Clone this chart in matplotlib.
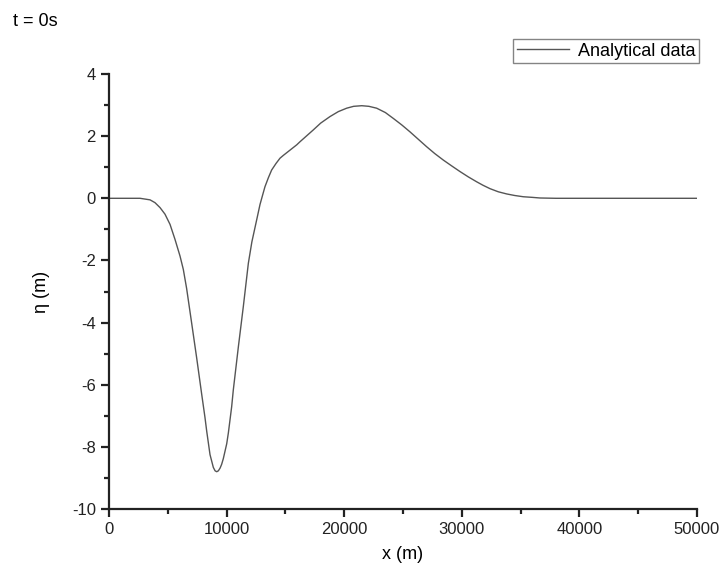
import matplotlib.pyplot as plt
from matplotlib.ticker import MultipleLocator

plt.rcParams['font.family'] = ['Liberation Sans', 'DejaVu Sans']
plt.rcParams['axes.unicode_minus'] = False

# free surface at t = 0
x_m = [0, 2000, 2640, 3490, 3910, 4340, 4760, 5190, 5610, 6040, 6320, 6600,
       7030, 7460, 7880, 8160, 8310, 8590, 8870, 9020, 9160, 9300, 9450, 9580, 9720,
       10010, 10150, 10430, 10570, 11000, 11420, 11850, 12150, 12410, 12600,
       12840, 13060, 13260, 13550, 13830, 14200, 14540, 14820, 15390, 15960,
       16240, 17370, 18000, 18790, 19500, 20210, 20800, 21490, 22100, 22760,
       23500, 24180, 24900, 25590, 26300, 27010, 27700, 28430, 29150, 29850,
       30550, 31270, 31800, 32400, 33100, 33820, 34500, 35230, 36000, 36650,
       38000, 40000, 50000]
eta_m = [0, 0, 0, -0.05, -0.14, -0.30, -0.51, -0.84, -1.32, -1.86, -2.29, -2.90,
         -4.02, -5.15, -6.30, -7.05, -7.50, -8.25, -8.66, -8.77, -8.80, -8.77, -8.68, -8.56, -8.38,
         -7.90, -7.55, -6.71, -6.17, -4.78, -3.49, -2.09, -1.40, -0.95, -0.62,
         -0.20, 0.10, 0.37, 0.66, 0.91, 1.12, 1.29, 1.38, 1.55, 1.72,
         1.82, 2.20, 2.42, 2.63, 2.79, 2.90, 2.96, 2.98, 2.96, 2.90,
         2.76, 2.57, 2.36, 2.14, 1.90, 1.66, 1.44, 1.23, 1.04, 0.86,
         0.69, 0.53, 0.42, 0.31, 0.21, 0.14, 0.09, 0.05, 0.03, 0.01,
         0.0, 0.0, 0.0]

fig = plt.figure(figsize=(7.19, 5.76), dpi=100)
ax = fig.add_axes([0.1516, 0.1163, 0.8178, 0.7552])

ax.plot(x_m, eta_m, color='#555555', linewidth=1.0, label='Analytical data')

ax.set_xlim(0, 50000)
ax.set_ylim(-10, 4)
ax.xaxis.set_major_locator(MultipleLocator(10000))
ax.xaxis.set_minor_locator(MultipleLocator(5000))
ax.yaxis.set_major_locator(MultipleLocator(2))
ax.yaxis.set_minor_locator(MultipleLocator(1))

for side in ['top', 'right']:
    ax.spines[side].set_visible(False)
for side in ['left', 'bottom']:
    ax.spines[side].set_linewidth(1.6)
    ax.spines[side].set_color('#222222')
ax.tick_params(which='major', direction='out', length=6, width=1.6, labelsize=12, colors='#222222')
ax.tick_params(which='minor', direction='out', length=3.5, width=1.6, colors='#222222')

ax.set_xlabel('x (m)', fontsize=13, labelpad=6)
ax.set_ylabel('η (m)', fontsize=13, labelpad=16)

leg = ax.legend(loc='lower right', bbox_to_anchor=(1.004, 1.025), fontsize=13, frameon=True,
                fancybox=False, edgecolor='#666666', handlelength=2.9, borderpad=0.2,
                handletextpad=0.5, borderaxespad=0)
leg.get_frame().set_linewidth(1.0)

fig.text(0.018, 0.962, 't = 0s', fontsize=13, va='center', ha='left')

fig.savefig('out.png', dpi=100)
